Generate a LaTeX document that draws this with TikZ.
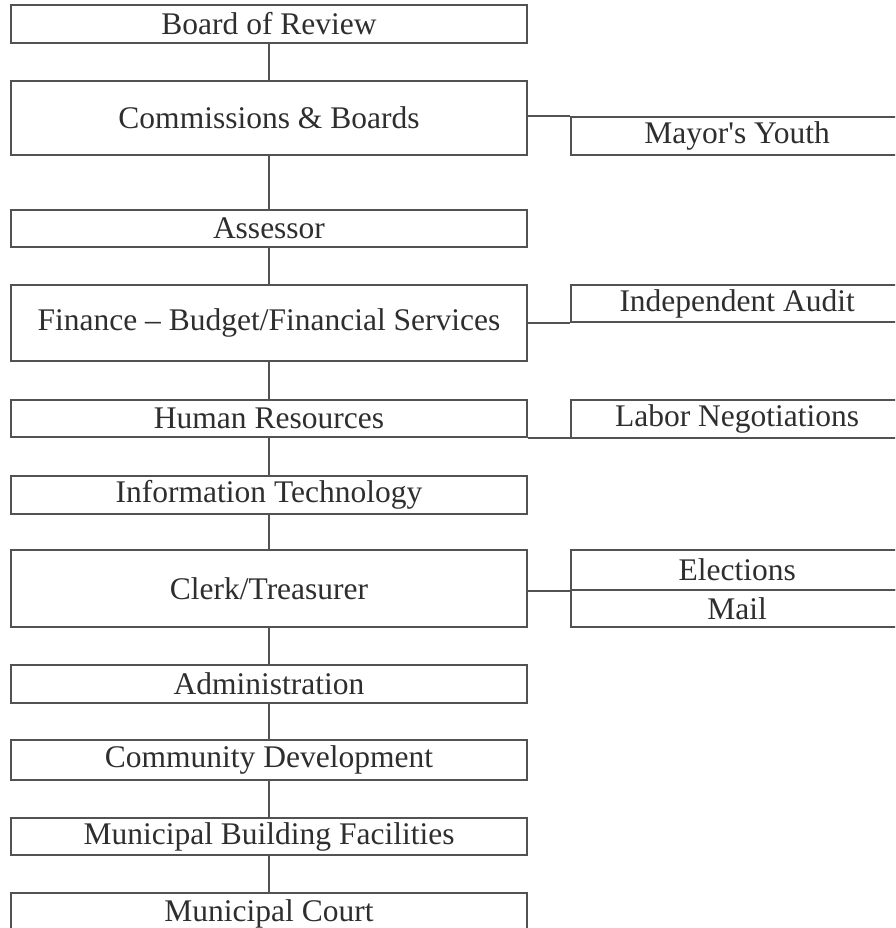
\documentclass[tikz,border=0pt]{standalone}
\usepackage{fontspec}
\setmainfont{Liberation Serif}
\newfontfamily\straightserif[Ligatures=TeXOff]{Liberation Serif}
\begin{document}
\begin{tikzpicture}[x=1pt,y=-1pt,
  boxline/.style={draw=black!68, line width=2.3pt},
  mainbox/.style={boxline, rectangle, minimum width=516pt, inner sep=0pt,
    text=black!82, font=\fontsize{31.5}{34}\selectfont},
  sidebox/.style={boxline, rectangle, minimum width=332pt, inner sep=0pt, anchor=west,
    text=black!82, font=\fontsize{31.5}{34}\selectfont},
  conn/.style={draw=black!68, line width=2.3pt}]
\useasboundingbox (0,0) rectangle (895,928);
\clip (0,0) rectangle (895,928);
% main column
\node[mainbox, minimum height=38pt] (board)  at (269,24)    {Board of Review};
\node[mainbox, minimum height=74pt] (comm)   at (269,118)   {Commissions \& Boards};
\node[mainbox, minimum height=37pt] (assess) at (269,228.5) {Assessor};
\node[mainbox, minimum height=76pt] (fin)    at (269,323)   {Finance – Budget/Financial Services};
\node[mainbox, minimum height=37pt] (hr)     at (269,418.5) {Human Resources};
\node[mainbox, minimum height=38pt] (it)     at (269,495)   {Information Technology};
\node[mainbox, minimum height=77pt] (clerk)  at (269,588.5) {Clerk/Treasurer};
\node[mainbox, minimum height=38pt] (admin)  at (269,684)   {Administration};
\node[mainbox, minimum height=40pt] (cdev)   at (269,760)   {Community Development};
\node[mainbox, minimum height=37pt] (mbf)    at (269,836.5) {Municipal Building Facilities};
\node[mainbox, minimum height=42pt] (court)  at (269,914)   {Municipal Court};
% side column
\node[sidebox, minimum height=38pt] (mayor) at (570,136)   {\straightserif Mayor's Youth};
\node[sidebox, minimum height=37pt] (audit) at (570,303.5) {Independent Audit};
\node[sidebox, minimum height=38pt] (labor) at (570,419)   {Labor Negotiations};
\node[sidebox, minimum height=40pt] (elect) at (570,570)   {Elections};
\node[sidebox, minimum height=37pt] (mail)  at (570,608.5) {Mail};
% vertical connectors
\draw[conn] (board.south) -- (comm.north);
\draw[conn] (comm.south) -- (assess.north);
\draw[conn] (assess.south) -- (fin.north);
\draw[conn] (fin.south) -- (hr.north);
\draw[conn] (hr.south) -- (it.north);
\draw[conn] (it.south) -- (clerk.north);
\draw[conn] (clerk.south) -- (admin.north);
\draw[conn] (admin.south) -- (cdev.north);
\draw[conn] (cdev.south) -- (mbf.north);
\draw[conn] (mbf.south) -- (court.north);
% side connectors
\draw[conn] (comm.east |- mayor.north) -- (mayor.north west);
\draw[conn] (fin.east |- audit.south) -- (audit.south west);
\draw[conn] (hr.south east) -- (hr.south east -| labor.west);
\draw[conn] (clerk.east |- elect.south) -- (elect.south west);
\end{tikzpicture}
\end{document}
